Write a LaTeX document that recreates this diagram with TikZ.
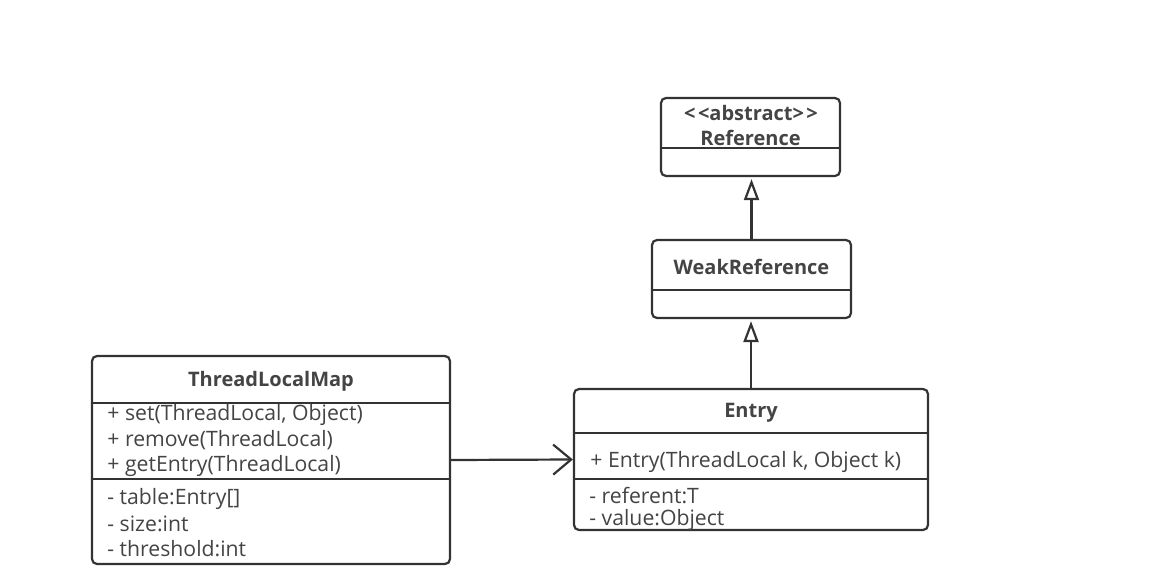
\documentclass[tikz,border=0pt]{standalone}
\usepackage{fontspec}
\setmainfont{Open Sans}
\usetikzlibrary{arrows.meta}
\definecolor{umlline}{HTML}{333333}
\definecolor{umltext}{HTML}{444444}
\tikzset{
  classbox/.style={draw=umlline, line width=1.1pt, rounded corners=2.5pt, inner sep=0pt, fill=white},
  divider/.style={draw=umlline, line width=1.1pt},
  classname/.style={font=\fontsize{10}{12}\selectfont\bfseries, text=umltext, inner sep=0pt},
  member/.style={font=\fontsize{10.6}{12}\selectfont, text=umltext, anchor=west, inner sep=0pt},
  inherit/.style={draw=umlline, line width=1.1pt, shorten >=1pt, -{Triangle[open, length=10.5pt, width=7.5pt, line width=1.1pt]}},
  assoc/.style={draw=umlline, line width=1.1pt, -{Straight Barb[length=9pt, width=15pt, line width=1.1pt]}}
}
\begin{document}
\begin{tikzpicture}[x=0.5pt, y=-0.5pt]
\useasboundingbox[fill=white] (0,0) rectangle (1172,578);

% Reference
\node[classbox, minimum width=89.5pt, minimum height=39pt] (ref) at (750.5,137) {};
\draw[divider] (ref.west |- 0,148) -- (ref.east |- 0,148);
\node[classname] (refstereo) at (751,113) {<\kern1.2pt<abstract>\kern1.2pt>};
\node[classname] (refname) at (750.5,138) {Reference};

% WeakReference
\node[classbox, minimum width=99.5pt, minimum height=39pt] (weak) at (751.5,279) {};
\draw[divider] (weak.west |- 0,290) -- (weak.east |- 0,290);
\node[classname] (weakname) at (751.5,267) {WeakReference};

% Entry
\node[classbox, minimum width=177pt, minimum height=70.5pt] (entry) at (751,459.5) {};
\draw[divider] (entry.west |- 0,433) -- (entry.east |- 0,433);
\draw[divider] (entry.west |- 0,479) -- (entry.east |- 0,479);
\node[classname] (entryname) at (751,413) {Entry};
\node[member] (entryctor) at (590,462) {+ Entry(ThreadLocal k, Object k)};
\node[member] (entryref) at (589,496) {- referent:T};
\node[member] (entryval) at (589,520) {- value:Object};

% ThreadLocalMap
\node[classbox, minimum width=179pt, minimum height=104pt] (tlm) at (271,460) {};
\draw[divider] (tlm.west |- 0,403) -- (tlm.east |- 0,403);
\draw[divider] (tlm.west |- 0,479) -- (tlm.east |- 0,479);
\node[classname] (tlmname) at (271,381) {ThreadLocalMap};
\node[member] (tlmset) at (107,415) {+ set(ThreadLocal, Object)};
\node[member] (tlmremove) at (107,440) {+ remove(ThreadLocal)};
\node[member] (tlmget) at (107,466) {+ getEntry(ThreadLocal)};
\node[member] (tlmtable) at (107,499) {- table:Entry[]};
\node[member] (tlmsize) at (107,524) {- size:int};
\node[member] (tlmthres) at (107,549) {- threshold:int};

% Connectors
\draw[inherit] (weak.north) -- (weak.north |- ref.south);
\draw[inherit] (entry.north) -- (entry.north |- weak.south);
\draw[assoc] (tlm.east) -- (entry.west);
\end{tikzpicture}
\end{document}
